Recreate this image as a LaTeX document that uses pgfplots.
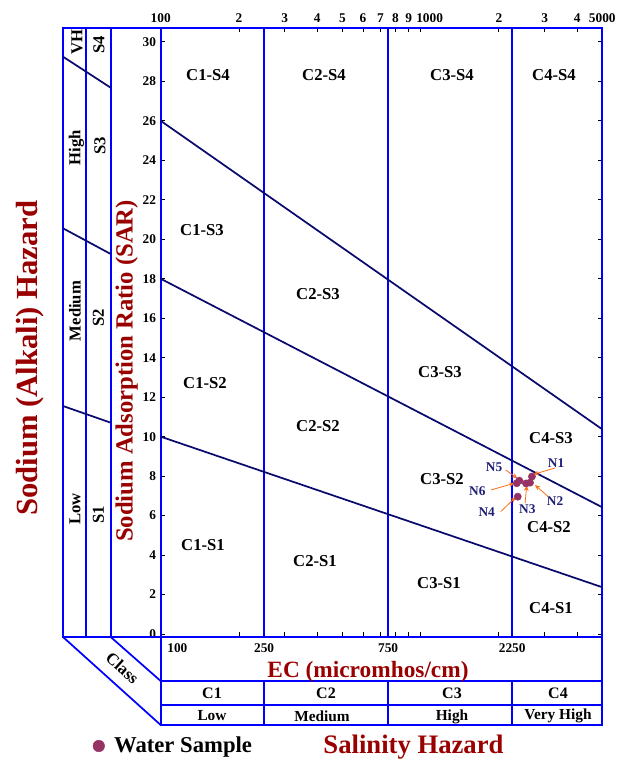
\documentclass[border=0pt]{standalone}
\usepackage{pgfplots}
\pgfplotsset{compat=1.18}
\usetikzlibrary{arrows.meta}
\usepackage{fontspec}
\setmainfont{Liberation Serif}

\definecolor{boxblue}{RGB}{0,0,255}
\definecolor{navyline}{RGB}{10,10,110}
\definecolor{titlered}{RGB}{153,0,0}
\definecolor{sample}{RGB}{150,50,100}
\definecolor{arrowor}{RGB}{255,110,20}
\definecolor{labnavy}{RGB}{30,30,120}

\newcommand\fs[1]{\fontsize{#1}{#1}\selectfont\bfseries}

\begin{document}
\begin{tikzpicture}
\begin{axis}[
  at={(0,0)}, anchor=south west,
  scale only axis, width=331.2pt, height=457pt,
  xmode=log, xmin=100, xmax=5000, ymin=-0.15, ymax=30.72,
  clip=false,
  axis line style={boxblue, line width=1.6pt},
  xtick={100,200,300,400,500,600,700,800,900,1000,2000,3000,4000,5000},
  xticklabels={100,2,3,4,5,6,7,8,9,{\hspace*{13.5pt}1000},2,3,4,5000},
  minor xtick={},
  xticklabel pos=upper,
  ytick={0,2,...,30},
  yticklabel pos=left,
  tick align=inside,
  major tick length=3.6pt,
  every tick/.append style={black, line width=0.6pt},
  /pgf/number format/assume math mode=true,
  ticklabel style={font=\fs{10}},
  legend style={at={(axis description cs:-0.1544,-0.1789)}, anchor=west,
    draw=none, fill=none, inner sep=0pt, column sep=7pt,
    nodes={inner sep=0pt}, font=\fs{17}},
  legend image code/.code={\fill[sample] (0pt,0pt) circle (4.3pt);},
]
% salinity class boundaries (EC = 250, 750, 2250) and their table dividers
\pgfplotsinvokeforeach{250,750,2250}{
  \draw[boxblue, line width=1.5pt] (axis cs:#1,-0.15) -- (axis cs:#1,30.72);
  \draw[boxblue, line width=1.6pt] ([yshift=-33pt]axis cs:#1,-0.15) -- ([yshift=-66pt]axis cs:#1,-0.15);
}
% sodium hazard boundaries
\addplot[navyline, line width=1.3pt, forget plot] coordinates {(100,26) (5000,10.37)};
\addplot[navyline, line width=1.3pt, forget plot] coordinates {(100,18) (5000,6.42)};
\addplot[navyline, line width=1.3pt, forget plot] coordinates {(100,10) (5000,2.37)};

% water samples N1..N6 (EC, SAR)
\addplot[only marks, mark=*, mark size=2.7pt, color=sample] table {
x    y
2681 7.98
2636 7.67
2544 7.63
2364 6.96
2398 7.77
2343 7.64
};
\addlegendentry{Water Sample}

% sample labels with arrows
\begin{scope}[every node/.style={font=\fs{10}, text=labnavy}]
  \node at (axis cs:3319,8.65) {N1};
  \node at (axis cs:3289,6.74) {N2};
  \node at (axis cs:2574,6.34) {N3};
  \node at (axis cs:1796,6.17) {N4};
  \node at (axis cs:1916,8.45) {N5};
  \node at (axis cs:1653,7.25) {N6};
\end{scope}
\begin{scope}[arrowor, line width=0.6pt, -{Stealth[length=4pt,width=3.5pt]}]
  \draw (axis cs:3289,8.41) -- (axis cs:2714,8.09);
  \draw (axis cs:3099,6.96) -- (axis cs:2755,7.55);
  \draw (axis cs:2522,6.62) -- (axis cs:2560,7.52);
  \draw (axis cs:2033,6.20) -- (axis cs:2322,6.93);
  \draw (axis cs:2126,8.31) -- (axis cs:2356,7.89);
  \draw (axis cs:1866,7.30) -- (axis cs:2294,7.64);
\end{scope}

% EC values under the plot
\node[font=\fs{10}, anchor=west] at ([yshift=-8.7pt, xshift=1.5pt]axis cs:100,-0.15) {100};
\node[font=\fs{10}] at ([yshift=-8.7pt]axis cs:250,-0.15) {250};
\node[font=\fs{10}] at ([yshift=-8.7pt]axis cs:750,-0.15) {750};
\node[font=\fs{10}] at ([yshift=-8.7pt]axis cs:2250,-0.15) {2250};
\end{axis}

% pixel grid (1 px = 0.75 pt), origin at the lower-left corner of the plot box
\begin{scope}[x=0.75pt,y=-0.75pt,shift={(-160.7,-637)}]
  % sodium hazard panel on the left
  \draw[boxblue, line width=1.6pt] (160.7,27.7) -- (63,27.7) -- (63,637) -- (160.7,637);
  \draw[boxblue, line width=1.6pt] (86,27.7) -- (86,637) (110.7,27.7) -- (110.7,637);
  \draw[navyline, line width=1.3pt] (63,56.7) -- (110.7,87.7);
  \draw[navyline, line width=1.3pt] (63,228.3) -- (110.7,254);
  \draw[navyline, line width=1.3pt] (63,406) -- (110.7,422.7);
  \begin{scope}[every node/.style={rotate=90, font=\fs{12.5}}]
    \node at (77,42.5) {VH};
    \node at (99,45) {S4};
    \node at (76.5,147.5) {High};
    \node at (100,146) {S3};
    \node at (75,311) {Medium};
    \node at (98.5,318) {S2};
    \node at (75,509) {Low};
    \node at (98.5,515) {S1};
  \end{scope}
  % class wedge and salinity table
  \draw[boxblue, line width=1.3pt] (63,637) -- (160.7,725) (110.7,637) -- (160.7,681);
  \node[rotate=-42, font=\fs{12.5}] at (122.5,668) {Class};
  \draw[boxblue, line width=1.6pt] (160.7,637) -- (160.7,725) -- (602.3,725) -- (602.3,637);
  \draw[boxblue, line width=1.6pt] (160.7,681) -- (602.3,681) (160.7,705) -- (602.3,705);
  \begin{scope}[every node/.style={font=\fs{12}}]
    \node at (212,693) {C1};
    \node at (326,693) {C2};
    \node at (452,693) {C3};
    \node at (558,693) {C4};
  \end{scope}
  \begin{scope}[every node/.style={font=\fs{11.5}}]
    \node at (212,715.5) {Low};
    \node at (322,716.5) {Medium};
    \node at (452,716.5) {High};
    \node at (558,715.5) {Very High};
  \end{scope}
  % region names
  \begin{scope}[every node/.style={font=\fs{12.5}}]
    \node at (208,75) {C1-S4};  \node at (324,75) {C2-S4};
    \node at (452,75) {C3-S4};  \node at (554,75) {C4-S4};
    \node at (202,230) {C1-S3}; \node at (318,294) {C2-S3};
    \node at (440,372) {C3-S3}; \node at (551,438) {C4-S3};
    \node at (205,383) {C1-S2}; \node at (318,426) {C2-S2};
    \node at (442,479) {C3-S2}; \node at (549,527) {C4-S2};
    \node at (203,545) {C1-S1}; \node at (315,561) {C2-S1};
    \node at (439,583) {C3-S1}; \node at (551,608) {C4-S1};
  \end{scope}
  % titles
  \node[rotate=90, font=\fs{23}, text=titlered] at (30,358) {Sodium (Alkali) Hazard};
  \node[rotate=90, font=\fs{18.5}, text=titlered] at (126.7,371) {Sodium Adsorption Ratio (SAR)};
  \node[anchor=base, font=\fs{17.5}, text=titlered] at (368,677) {EC (micromhos/cm)};
  \node[anchor=base, font=\fs{20}, text=titlered] at (413.5,753.5) {Salinity Hazard};
\end{scope}

% page frame
\pgfresetboundingbox
\begin{scope}[x=0.75pt,y=-0.75pt,shift={(-160.7,-637)}]
  \useasboundingbox (0,0) rectangle (632,760);
\end{scope}
\end{tikzpicture}
\end{document}
